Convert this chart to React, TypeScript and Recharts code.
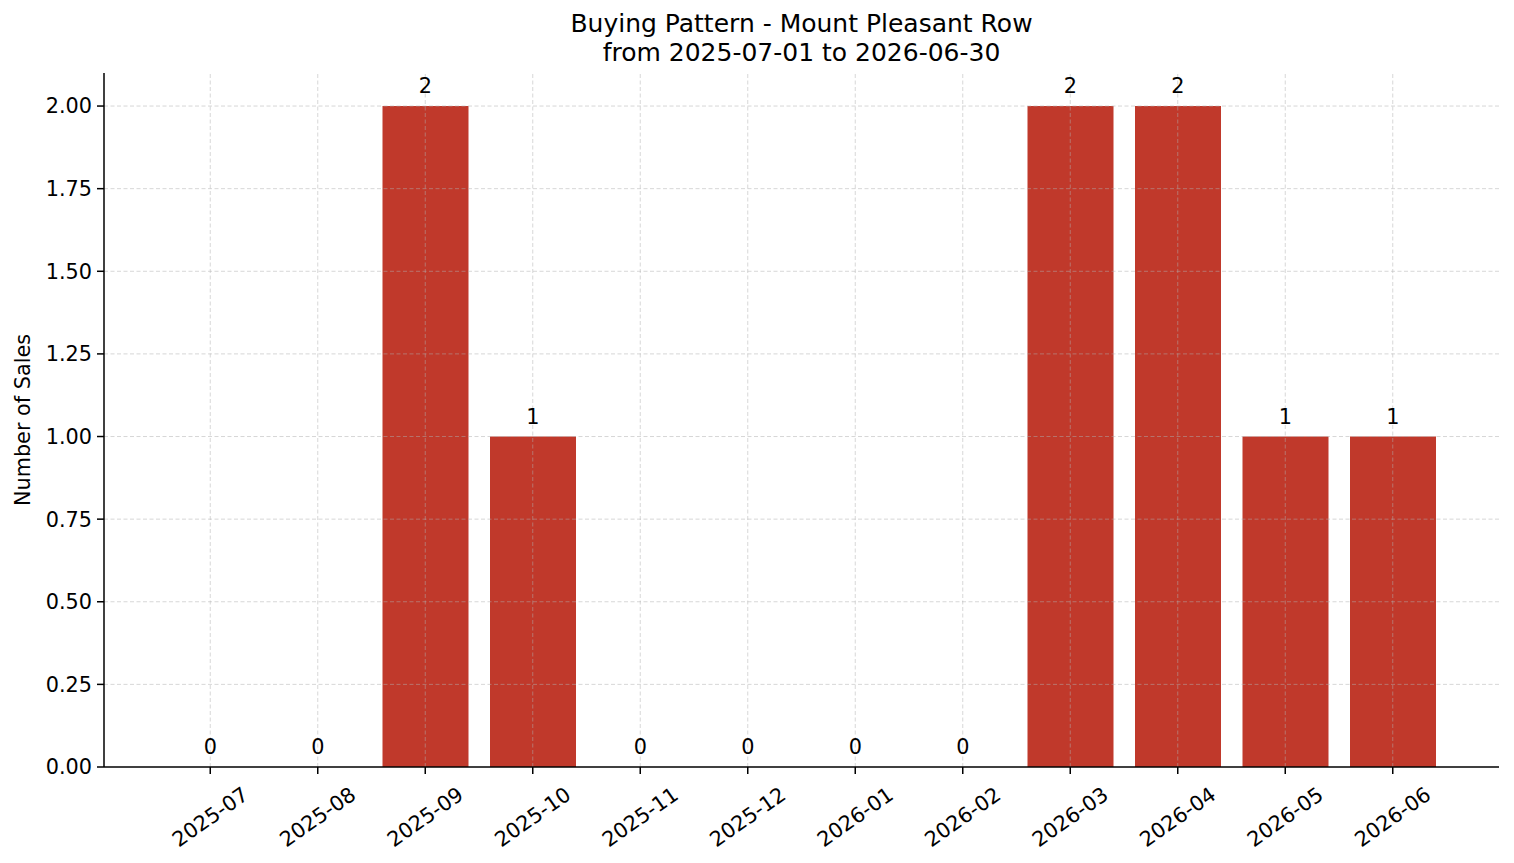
import React from "react";
import {
  ComposedChart,
  Bar,
  Line,
  XAxis,
  YAxis,
  ReferenceLine,
  LabelList,
} from "recharts";

const months = [
  "2025-07", "2025-08", "2025-09", "2025-10", "2025-11", "2025-12",
  "2026-01", "2026-02", "2026-03", "2026-04", "2026-05", "2026-06",
];
const sales = [0, 0, 2, 1, 0, 0, 0, 0, 2, 2, 1, 1];
const yTicks = [0, 0.25, 0.5, 0.75, 1.0, 1.25, 1.5, 1.75, 2.0];

const FONT = "'DejaVu Sans', sans-serif";
const BAR_COLOR = "#c0392b";
const GRID = "#b0b0b0";

const data = months.map((m, i) => ({ month: m, sales: sales[i] }));

const RotatedTick = ({ x, y, payload }: any) => (
  <g transform={`translate(${x},${y + 41})`}>
    <text
      transform="rotate(-35)"
      textAnchor="middle"
      dominantBaseline="central"
      fontSize={20.8}
      fontFamily={FONT}
      fill="#000"
    >
      {payload.value}
    </text>
  </g>
);

export default function App() {
  return (
    <div style={{ position: "absolute", left: 0, top: 0, width: 1514, height: 863, background: "#fff" }}>
      <div
        style={{
          position: "absolute",
          left: 104,
          width: 1395,
          top: 9,
          textAlign: "center",
          fontFamily: FONT,
          fontSize: 25,
          lineHeight: "29px",
          color: "#000",
        }}
      >
        Buying Pattern - Mount Pleasant Row
        <br />
        from 2025-07-01 to 2026-06-30
      </div>
      <ComposedChart
        width={1514}
        height={863}
        data={data}
        margin={{ top: 73, right: 15, bottom: 0, left: 0 }}
        barSize={86}
      >
        <XAxis
          dataKey="month"
          height={96}
          padding={{ left: 52.5, right: 52.5 }}
          tick={<RotatedTick />}
          tickSize={7}
          interval={0}
          axisLine={{ stroke: "#000", strokeWidth: 1.5 }}
          tickLine={{ stroke: "#000", strokeWidth: 1.5 }}
        />
        <YAxis
          width={104}
          domain={[0, 2.1]}
          ticks={yTicks}
          tickFormatter={(v: number) => v.toFixed(2)}
          tickSize={7}
          tickMargin={5}
          tick={{ fill: "#000", fontSize: 20.8, fontFamily: FONT }}
          axisLine={{ stroke: "#000", strokeWidth: 1.5 }}
          tickLine={{ stroke: "#000", strokeWidth: 1.5 }}
          label={{
            value: "Number of Sales",
            angle: -90,
            position: "insideLeft",
            dx: 18,
            style: { textAnchor: "middle", fontSize: 20.8, fontFamily: FONT, fill: "#000" },
          }}
        />
        <Bar dataKey="sales" fill={BAR_COLOR} isAnimationActive={false} />
        <Line
          dataKey="sales"
          stroke="none"
          dot={false}
          activeDot={false}
          isAnimationActive={false}
        >
          <LabelList
            dataKey="sales"
            position="top"
            offset={13}
            style={{ fontSize: 20.8, fontFamily: FONT, fill: "#000" }}
          />
        </Line>
        {yTicks
          .filter((t) => t > 0)
          .map((t) => (
            <ReferenceLine
              key={`y${t}`}
              y={t}
              stroke={GRID}
              strokeOpacity={0.5}
              strokeDasharray="4 2.5"
              strokeWidth={1}
            />
          ))}
        {months.map((m) => (
          <ReferenceLine
            key={m}
            x={m}
            stroke={GRID}
            strokeOpacity={0.5}
            strokeDasharray="4 2.5"
            strokeWidth={1}
          />
        ))}
      </ComposedChart>
    </div>
  );
}
